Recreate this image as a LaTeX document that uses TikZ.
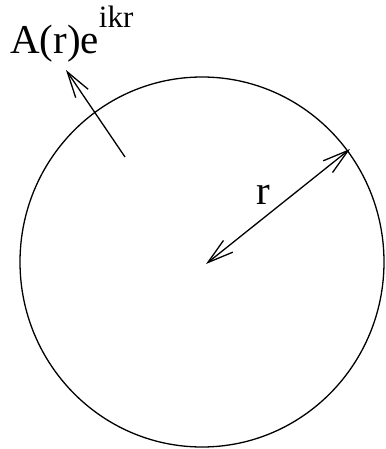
\documentclass[tikz,border=0pt]{standalone}
\usepackage{fontspec}
\setmainfont{Liberation Serif}
\usetikzlibrary{arrows.meta}
\tikzset{
  line/.style={line width=1.3pt, draw=black},
  barb/.style={-{Straight Barb[length=26pt,width=15pt,line width=1.3pt]}},
  dbarb/.style={{Straight Barb[length=26pt,width=15pt,line width=1.3pt]}-{Straight Barb[length=26pt,width=15pt,line width=1.3pt]}},
  lbl/.style={inner sep=0pt, font=\fontsize{41}{41}\selectfont}
}
\begin{document}
\begin{tikzpicture}[x=1pt,y=-1pt]
\useasboundingbox (0,0) rectangle (385,449);
\coordinate (c) at (202,262);
\draw[line] (c) ellipse [x radius=182, y radius=185];
\coordinate (center) at (206,264);
\coordinate (rim) at (350,149);
\draw[line,dbarb] (center) -- (rim);
\coordinate (tail) at (125,157);
\coordinate (tip) at (66,70);
\draw[line,barb] (tail) -- (tip);
\node[lbl, anchor=base west] (amp) at (10,54) {A(r)e\raisebox{26pt}{\fontsize{31}{31}\selectfont ikr}};
\node[lbl, anchor=base west] (rl) at (256,204) {r};
\end{tikzpicture}
\end{document}
